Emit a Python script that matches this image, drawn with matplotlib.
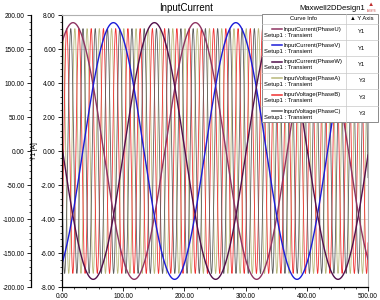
import numpy as np
import matplotlib
matplotlib.use('Agg')
import matplotlib.pyplot as plt
from matplotlib.ticker import MultipleLocator, AutoMinorLocator
from matplotlib.patches import Rectangle
from matplotlib.lines import Line2D

plt.rcParams['font.family'] = ['Liberation Sans', 'DejaVu Sans']

# values
current_names = ['InputCurrent(PhaseU)', 'InputCurrent(PhaseV)', 'InputCurrent(PhaseW)']
current_peak_ms = [18, 84, 151]      # time of a positive peak
current_amp = 7.55                   # A
current_period = 200                 # ms
voltage_names = ['InputVoltage(PhaseA)', 'InputVoltage(PhaseB)', 'InputVoltage(PhaseC)']
voltage_peak_ms = [1.0, 7.7, 14.3]
voltage_amp = 180                    # V
voltage_period = 20                  # ms
axis_of_curve = ['Y1', 'Y1', 'Y1', 'Y3', 'Y3', 'Y3']

cur_colors = ['#8e3462', '#1c1cd8', '#52104c']
volt_colors = ['#b8b87a', '#f03030', '#5c5c5c']

t = np.linspace(0, 500, 6001)

W, H = 380, 300
fig = plt.figure(figsize=(3.8, 3.0), dpi=100)
fig.patch.set_facecolor('white')

def fx(px):
    return px / W

def fy(py):
    return 1 - py / H

px_l, px_r = 62, 368
rect = [fx(px_l), fy(287), fx(px_r) - fx(px_l), fy(15) - fy(287)]
ax1 = fig.add_axes(rect)
ax3 = ax1.twinx()
ax1.set_zorder(ax3.get_zorder() + 1)
ax1.patch.set_visible(False)
ax3.patch.set_visible(True)
ax3.patch.set_facecolor('white')

# voltages on Y3
for ph, c in zip(voltage_peak_ms, volt_colors):
    ax3.plot(t, voltage_amp * np.cos(2 * np.pi * (t - ph) / voltage_period), color=c, lw=0.6)
# currents on Y1
for ph, c in zip(current_peak_ms, cur_colors):
    ax1.plot(t, current_amp * np.cos(2 * np.pi * (t - ph) / current_period), color=c, lw=1.0)

ax1.set_xlim(0, 500)
ax1.set_ylim(-8, 8)
ax3.set_ylim(-200, 200)

ax1.xaxis.set_major_locator(MultipleLocator(100))
ax1.xaxis.set_minor_locator(AutoMinorLocator(5))
ax1.yaxis.set_major_locator(MultipleLocator(2))
ax1.yaxis.set_minor_locator(AutoMinorLocator(5))
ax3.yaxis.set_major_locator(MultipleLocator(50))
ax3.yaxis.set_minor_locator(AutoMinorLocator(5))

fmt = lambda v, p: '%.2f' % v
ax1.xaxis.set_major_formatter(fmt)
ax1.yaxis.set_major_formatter(fmt)
ax3.yaxis.set_major_formatter(fmt)

ax3.grid(True, which='major', color='#d4d4d4', lw=0.6)
ax3.set_axisbelow(True)

# Y3 axis moved to the left of Y1
ax3.yaxis.tick_left()
ax3.yaxis.set_label_position('left')
ax3.spines['left'].set_visible(True)
ax3.spines['left'].set_position(('axes', -31 / (px_r - px_l)))
ax3.spines['right'].set_visible(False)
ax3.spines['top'].set_visible(False)
ax3.spines['bottom'].set_visible(False)

for s in ['top', 'right']:
    ax1.spines[s].set_color('#b0b0b0')
    ax1.spines[s].set_linewidth(0.8)
for a in (ax1, ax3):
    a.tick_params(axis='both', which='major', labelsize=4.7, length=3, width=0.6, pad=1.5)
    a.tick_params(axis='both', which='minor', length=1.6, width=0.5)
ax1.spines['left'].set_linewidth(0.9)
ax1.spines['bottom'].set_linewidth(0.9)
ax3.spines['left'].set_linewidth(0.9)

ax1.set_ylabel('Y1 [A]', fontsize=4.7, labelpad=2)
ax3.set_ylabel('Y3 [V]', fontsize=4.7, labelpad=1)
ax1.set_xlabel('Time [ms]', fontsize=6, labelpad=2)

# title and design name
fig.text(fx(186), fy(8), 'InputCurrent', fontsize=7, ha='center', va='center')
fig.text(fx(332), fy(8), 'Maxwell2DDesign1', fontsize=5.5, ha='center', va='center')
fig.text(fx(371), fy(5), '\u25b2', fontsize=4.5, color='#c03030', ha='center', va='center')
fig.text(fx(371), fy(11), 'ANSYS', fontsize=1.8, color='#c03030', ha='center', va='center')

# legend table
lx0, lx1, ldiv = 262, 378, 346
ly0, lhead, row_h = 14, 23.5, 16.4
nrows = len(current_names) + len(voltage_names)
ly1 = lhead + nrows * row_h
fig.patches.append(Rectangle((fx(lx0), fy(ly1)), fx(lx1) - fx(lx0), fy(ly0) - fy(ly1),
                             transform=fig.transFigure, facecolor='white',
                             edgecolor='#8a8a8a', lw=0.7, zorder=5))
sep_kw = dict(transform=fig.transFigure, color='#c8c8c8', lw=0.5, zorder=6)
fig.lines.append(Line2D([fx(ldiv), fx(ldiv)], [fy(ly0), fy(ly1)], **sep_kw))
fig.lines.append(Line2D([fx(lx0), fx(lx1)], [fy(lhead), fy(lhead)], **sep_kw))
fig.text(fx((lx0 + ldiv) / 2), fy((ly0 + lhead) / 2), 'Curve Info', fontsize=4.2,
         ha='center', va='center', zorder=7)
fig.text(fx((ldiv + lx1) / 2), fy((ly0 + lhead) / 2), '\u25b2 Y Axis', fontsize=4.2,
         ha='center', va='center', zorder=7)

names = current_names + voltage_names
colors = cur_colors + volt_colors
for i, (nm, c, yax) in enumerate(zip(names, colors, axis_of_curve)):
    top = lhead + i * row_h
    if i > 0:
        fig.lines.append(Line2D([fx(lx0), fx(lx1)], [fy(top), fy(top)], **sep_kw))
    fig.lines.append(Line2D([fx(272), fx(282)], [fy(top + 5.5), fy(top + 5.5)],
                            transform=fig.transFigure, color=c, lw=1.1, zorder=7))
    fig.text(fx(284), fy(top + 5.5), nm, fontsize=4.2, ha='left', va='center', zorder=7)
    fig.text(fx(264), fy(top + 11.5), 'Setup1 : Transient', fontsize=4.2,
             ha='left', va='center', zorder=7)
    fig.text(fx((ldiv + lx1) / 2), fy(top + row_h / 2), yax, fontsize=4.2,
             ha='center', va='center', zorder=7)

fig.savefig('out.png', dpi=100)
